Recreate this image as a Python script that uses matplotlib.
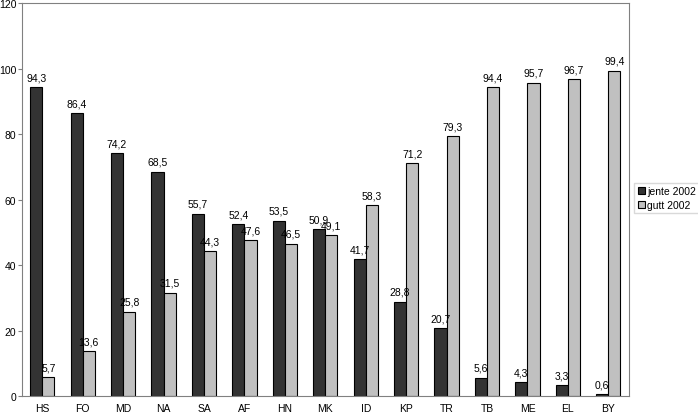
import numpy as np
import matplotlib.pyplot as plt

plt.rcParams['font.family'] = ['Liberation Sans', 'DejaVu Sans']

categories = ['HS', 'FO', 'MD', 'NA', 'SA', 'AF', 'HN', 'MK', 'ID', 'KP', 'TR', 'TB', 'ME', 'EL', 'BY']
jente = [94.3, 86.4, 74.2, 68.5, 55.7, 52.4, 53.5, 50.9, 41.7, 28.8, 20.7, 5.6, 4.3, 3.3, 0.6]
gutt = [5.7, 13.6, 25.8, 31.5, 44.3, 47.6, 46.5, 49.1, 58.3, 71.2, 79.3, 94.4, 95.7, 96.7, 99.4]

fig = plt.figure(figsize=(6.98, 4.14), dpi=100)
ax = fig.add_axes([0.0315, 0.041, 0.869, 0.949])

x = np.arange(len(categories))
w = 0.3
b1 = ax.bar(x - w/2, jente, w, color='#333333', edgecolor='black', linewidth=0.8, label='jente 2002')
b2 = ax.bar(x + w/2, gutt, w, color='#c0c0c0', edgecolor='black', linewidth=0.8, label='gutt 2002')

for bars, vals in [(b1, jente), (b2, gutt)]:
    for b, v in zip(bars, vals):
        ax.text(b.get_x() + b.get_width()/2, v + 1.5, f'{v:.1f}'.replace('.', ','),
                ha='center', va='bottom', fontsize=7.5)

ax.set_xlim(-0.5, len(categories) - 0.5)
ax.set_ylim(0, 120)
ax.set_yticks(range(0, 121, 20))
ax.set_xticks(x)
ax.set_xticklabels(categories)
ax.tick_params(labelsize=7.5, length=3, pad=1, color='#808080')
ax.tick_params(axis='x', length=0, pad=5)
for s in ax.spines.values():
    s.set_color('#808080')

fig.legend(loc='upper left', bbox_to_anchor=(0.909, 0.555), fontsize=7.5,
           frameon=True, fancybox=False, edgecolor='#d0d0d0',
           handlelength=0.7, handleheight=0.7, handletextpad=0.2, borderpad=0.3,
           borderaxespad=0, labelspacing=0.35)

fig.savefig('out.png', dpi=100)
